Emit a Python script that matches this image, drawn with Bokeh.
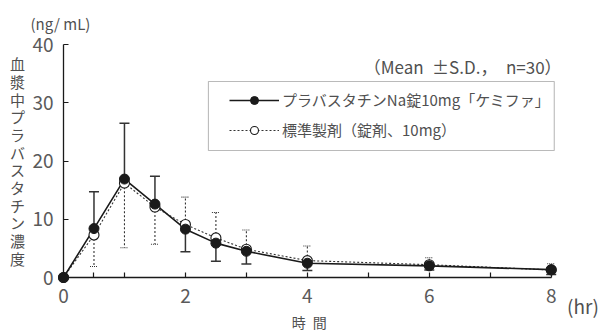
from bokeh.plotting import figure
from bokeh.models import (ColumnDataSource, FixedTicker, Legend, LegendItem,
                          BoxAnnotation, Range1d)
from bokeh.core.properties import value
from bokeh.embed import file_html
from bokeh.resources import INLINE

# ---- data ----
time_hr = [0, 0.5, 1, 1.5, 2, 2.5, 3, 4, 6, 8]
test_mean = [0, 8.4, 16.9, 12.6, 8.3, 5.9, 4.5, 2.45, 2.0, 1.35]
test_sd = [0, 6.3, 9.6, 4.8, 3.9, 3.1, 2.2, 1.25, 0.7, 0.85]
test_dir = [0, 1, 1, 1, -1, -1, -1, -1, -1, -1]
ref_mean = [0, 7.3, 16.2, 12.1, 9.1, 6.8, 4.85, 2.9, 2.2, 1.3]
ref_sd = [0, 5.4, 11.1, 6.4, 4.7, 4.35, 3.3, 2.5, 1.2, 1.05]
ref_dir = [0, -1, -1, -1, 1, 1, 1, 1, 1, 1]

x_major = [0, 2, 4, 6, 8]
x_minor = [0.5, 1, 3, 5, 7]
y_major = [0, 10, 20, 30, 40]

test_label = "プラバスタチンNa錠10mg「ケミファ」"
ref_label = "標準製剤（錠剤、10mg）"
note_text = "（Mean\u2002±S.D.，\u2002n=30）"
y_title = "血漿中プラバスタチン濃度"
y_unit = "(ng/ mL)"
x_unit = "(hr)"
x_title = "時\u2002間"

FONT = "Noto Sans CJK JP"
TXT = "#505050"
INK = "#1a1a1a"


def bars(mean, sd, d):
    xs, y0, y1 = [], [], []
    for t, m, s, k in zip(time_hr, mean, sd, d):
        if k == 0:
            continue
        xs.append(t)
        y0.append(m)
        y1.append(m + k * s)
    return ColumnDataSource(dict(x=xs, y0=y0, y1=y1))


src_test = ColumnDataSource(dict(x=time_hr, y=test_mean))
src_ref = ColumnDataSource(dict(x=time_hr, y=ref_mean))
bar_test = bars(test_mean, test_sd, test_dir)
bar_ref = bars(ref_mean, ref_sd, ref_dir)

p = figure(width=600, height=334, x_range=Range1d(0, 8.3), y_range=Range1d(0, 40),
           output_backend="svg", toolbar_location=None,
           min_border_left=63, min_border_right=31, min_border_top=44, min_border_bottom=57)
p.outline_line_color = None
p.xgrid.visible = False
p.ygrid.visible = False
p.background_fill_color = "white"
p.border_fill_color = "white"

# reference product (dotted, open circles)
ref_line = p.line("x", "y", source=src_ref, line_color="#333333", line_width=1.1, line_dash="2 2")
p.segment(x0="x", y0="y0", x1="x", y1="y1", source=bar_ref, line_color="#333333",
          line_width=1.1, line_dash="2 2")
p.scatter(x="x", y="y1", source=bar_ref, marker="dash", size=8, line_color="#333333",
          line_width=1.1, line_dash="1 1")
ref_pts = p.scatter("x", "y", source=src_ref, marker="circle", size=10,
                    fill_color="white", line_color=INK, line_width=1.1)
ref_pts.level = "overlay"

# test product (solid, filled circles)
test_line = p.line("x", "y", source=src_test, line_color=INK, line_width=1.6)
p.segment(x0="x", y0="y0", x1="x", y1="y1", source=bar_test, line_color="#333333", line_width=1.5)
p.scatter(x="x", y="y1", source=bar_test, marker="dash", size=10, line_color="#333333", line_width=1.5)
test_pts = p.scatter("x", "y", source=src_test, marker="circle", size=10,
                     fill_color=INK, line_color=INK, line_width=1)
test_pts.level = "overlay"

# axes
xa = p.xaxis[0]
xa.ticker = FixedTicker(ticks=x_major, minor_ticks=x_minor)
xa.bounds = (0, 8)
ya = p.yaxis[0]
ya.ticker = FixedTicker(ticks=y_major)
ya.bounds = (0, 40)
for ax in (xa, ya):
    ax.axis_line_color = INK
    ax.axis_line_width = 1.3
    ax.major_tick_line_color = INK
    ax.major_tick_line_width = 1.2
    ax.major_tick_in = 5
    ax.major_tick_out = 0
    ax.minor_tick_line_color = INK
    ax.minor_tick_line_width = 1.2
    ax.minor_tick_in = 5
    ax.minor_tick_out = 0
    ax.major_label_text_font = FONT
    ax.major_label_text_font_size = "19px"
    ax.major_label_text_color = "#5a5a5a"
ya.minor_tick_line_color = None
xa.major_label_standoff = 11
ya.major_label_standoff = 10

# legend frame and legend
p.add_layout(BoxAnnotation(left=2.377, right=8.05, top=33.65, bottom=21.8,
                           fill_alpha=0, line_color=INK, line_width=1.1, level="annotation"))
legend = Legend(items=[LegendItem(label=test_label, renderers=[test_line, test_pts]),
                       LegendItem(label=ref_label, renderers=[ref_line, ref_pts])],
                location=(166, 137), border_line_color=None, background_fill_alpha=0,
                padding=0, spacing=9, glyph_width=50, glyph_height=20, label_height=20,
                label_standoff=3, label_text_font=FONT, label_text_font_size="15px",
                label_text_color=TXT)
p.add_layout(legend)


def add_text(x, y, txt, size, align="center", line_height=1.2):
    r = p.text(x=[x], y=[y], text=[txt], text_align=align, text_baseline="middle",
               text_font=value(FONT), text_font_size=size, text_color=TXT,
               text_line_height=line_height)
    r.level = "overlay"
    return r


add_text(8.17, 36.2, note_text, "17px", align="right")
add_text(-0.754, 20.0, "\n".join(y_title), "15px", line_height=0.84)
add_text(-0.05, 43.6, y_unit, "15px")
add_text(8.26, -4.8, x_unit, "19px", align="left")
add_text(4.03, -7.6, x_title, "14px")

open("out.html", "w").write(file_html(p, INLINE))
